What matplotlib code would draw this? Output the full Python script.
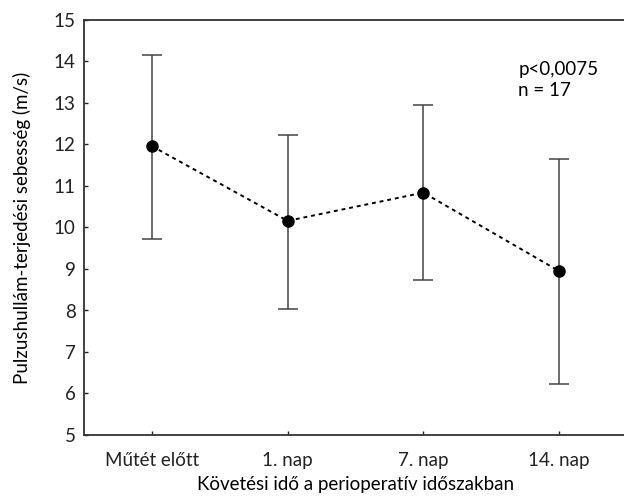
import matplotlib
matplotlib.use('Agg')
import matplotlib.pyplot as plt
import numpy as np

categories = ['Műtét előtt', '1. nap', '7. nap', '14. nap']
means = [11.96, 10.16, 10.84, 8.95]
upper = [14.16, 12.24, 12.94, 11.65]
lower = [9.73, 8.03, 8.74, 6.23]

plt.rcParams['font.family'] = ['Lato', 'DejaVu Sans']

x = np.arange(1, len(categories) + 1)
err = [np.array(means) - np.array(lower), np.array(upper) - np.array(means)]

fig = plt.figure(figsize=(6.24, 4.97), dpi=100)
ax = fig.add_axes([84 / 624, 62 / 497, 543 / 624, 415 / 497])

ax.errorbar(x, means, yerr=err, fmt='none', ecolor='#444444', elinewidth=1.1,
            capsize=7, capthick=1.1)
ax.plot(x, means, linestyle=(0, (2, 2)), color='black', linewidth=1.4,
        marker='o', markersize=8, markerfacecolor='black', markeredgecolor='black')

ax.set_xlim(0.5, 4.5)
ax.set_ylim(5, 15)
ax.set_yticks(range(5, 16))
ax.set_xticks(x)
ax.set_xticklabels(categories)
ax.tick_params(direction='in', length=3, width=1, labelsize=13.5, colors='#222222',
               pad=6)
ax.tick_params(axis='x', pad=12)
for s in ax.spines.values():
    s.set_linewidth(1.3)
    s.set_color('#333333')

ax.set_xlabel('Követési idő a perioperatív időszakban', fontsize=13.5, labelpad=5)
ax.set_ylabel('Pulzushullám-terjedési sebesség (m/s)', fontsize=13.5, labelpad=16)

ax.text(3.7, 14.0, 'p<0,0075\nn = 17', fontsize=13.5, va='top', ha='left',
        linespacing=1.25)

fig.savefig('out.png', dpi=100)
